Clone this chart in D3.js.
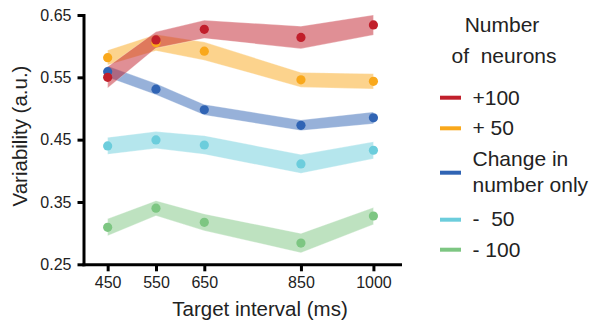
<!DOCTYPE html>
<html><head><meta charset="utf-8">
<script src="https://cdn.jsdelivr.net/npm/d3@7"></script>
<style>
html,body{margin:0;padding:0;background:#fff;}
svg text{font-family:"Liberation Sans",Arial,Helvetica,sans-serif;fill:#222;}
</style></head><body>
<svg id="chart" width="590" height="321"></svg>
<script>
// Target intervals (ms) and axis ticks
const intervals = [450, 550, 650, 850, 1000];
const xTicks = [450, 550, 650, 850, 1000];
const yTicks = [0.25, 0.35, 0.45, 0.55, 0.65];

// Legend labels, in legend order
const seriesNames = ["+100", "+ 50", "Change in\nnumber only", "-  50", "- 100"];
const seriesColors = ["#c11f2b", "#f9a81b", "#3064b4", "#6ccddc", "#7dc682"];

// Mean variability and band half-widths per series
const meanPlus100 = [0.550, 0.610, 0.627, 0.614, 0.634];
const bandPlus100 = [0.017, 0.013, 0.0145, 0.018, 0.016];
const meanPlus50 = [0.5816, 0.6056, 0.592, 0.546, 0.5436];
const bandPlus50 = [0.012, 0.013, 0.0145, 0.0118, 0.0122];
const meanSame = [0.559, 0.531, 0.498, 0.473, 0.485];
const bandSame = [0.009, 0.009, 0.0085, 0.0085, 0.0095];
const meanMinus50 = [0.440, 0.4495, 0.4414, 0.411, 0.433];
const bandMinus50 = [0.0136, 0.0135, 0.015, 0.015, 0.0135];
const meanMinus100 = [0.3094, 0.340, 0.3174, 0.284, 0.3275];
const bandMinus100 = [0.0136, 0.012, 0.0134, 0.0155, 0.0135];

const means = [meanPlus100, meanPlus50, meanSame, meanMinus50, meanMinus100];
const bands = [bandPlus100, bandPlus50, bandSame, bandMinus50, bandMinus100];

const series = seriesNames.map((name, i) => ({
  name, color: seriesColors[i],
  values: intervals.map((t, j) => ({ t, m: means[i][j], e: bands[i][j] }))
}));

const svg = d3.select("#chart");
const x = d3.scaleLinear().domain([400, 1055]).range([83.5, 400]);
const y = d3.scaleLinear().domain([0.25, 0.65]).range([264.3, 15]);

// Draw from the bottom series up so +100 sits on top
const drawOrder = series.slice().reverse();

const area = d3.area()
  .x(d => x(d.t))
  .y0(d => y(d.m - d.e))
  .y1(d => y(d.m + d.e));

svg.append("g").selectAll("path")
  .data(drawOrder).join("path")
  .attr("d", d => area(d.values))
  .attr("fill", d => d.color)
  .attr("fill-opacity", 0.5)
  .attr("stroke", "#fff")
  .attr("stroke-opacity", 0.35)
  .attr("stroke-width", 0.8);

svg.append("g").selectAll("g")
  .data(drawOrder).join("g")
  .attr("fill", d => d.color)
  .selectAll("circle")
  .data(d => d.values).join("circle")
  .attr("cx", d => x(d.t))
  .attr("cy", d => y(d.m))
  .attr("r", 4.6);

// Axes
const yAxis = svg.append("g")
  .attr("transform", `translate(${x(400)},0)`)
  .call(d3.axisLeft(y).tickValues(yTicks).tickFormat(d3.format(".2f"))
    .tickSize(6).tickSizeOuter(0).tickPadding(6));
const xAxis = svg.append("g")
  .attr("transform", `translate(0,${y(0.25)})`)
  .call(d3.axisBottom(x).tickValues(xTicks).tickFormat(d3.format("d"))
    .tickSize(7).tickSizeOuter(0).tickPadding(5));

[yAxis, xAxis].forEach(g => {
  g.select(".domain").attr("stroke", "#000").attr("stroke-width", 3).attr("stroke-linecap", "square");
  g.selectAll(".tick line").attr("stroke", "#000").attr("stroke-width", 3);
  g.selectAll(".tick text").style("font-size", "16px").attr("fill", "#222");
});

// Axis titles
svg.append("text")
  .attr("x", 260).attr("y", 315.5)
  .attr("text-anchor", "middle")
  .style("font-size", "20.5px")
  .text("Target interval (ms)");

svg.append("text")
  .attr("transform", "translate(27,136) rotate(-90)")
  .attr("text-anchor", "middle")
  .style("font-size", "20.5px")
  .text("Variability (a.u.)");

// Legend
const legend = svg.append("g");
legend.append("text").attr("x", 502).attr("y", 32)
  .attr("text-anchor", "middle").style("font-size", "21px").text("Number");
legend.append("text").attr("x", 504).attr("y", 63)
  .attr("text-anchor", "middle").style("font-size", "21px")
  .style("white-space", "pre").text("of  neurons");

const legendLineY = [97.7, 128.3, 172.7, 219.7, 249.7];
const legendTextY = [[105], [135], [166, 191.5], [226], [256.5]];

series.forEach((s, i) => {
  legend.append("line")
    .attr("x1", 440).attr("x2", 461)
    .attr("y1", legendLineY[i]).attr("y2", legendLineY[i])
    .attr("stroke", s.color).attr("stroke-width", 4);
  s.name.split("\n").forEach((line, k) => {
    legend.append("text")
      .attr("x", 472.5).attr("y", legendTextY[i][k])
      .style("font-size", "21px")
      .style("white-space", "pre")
      .text(line);
  });
});
</script>
</body></html>
